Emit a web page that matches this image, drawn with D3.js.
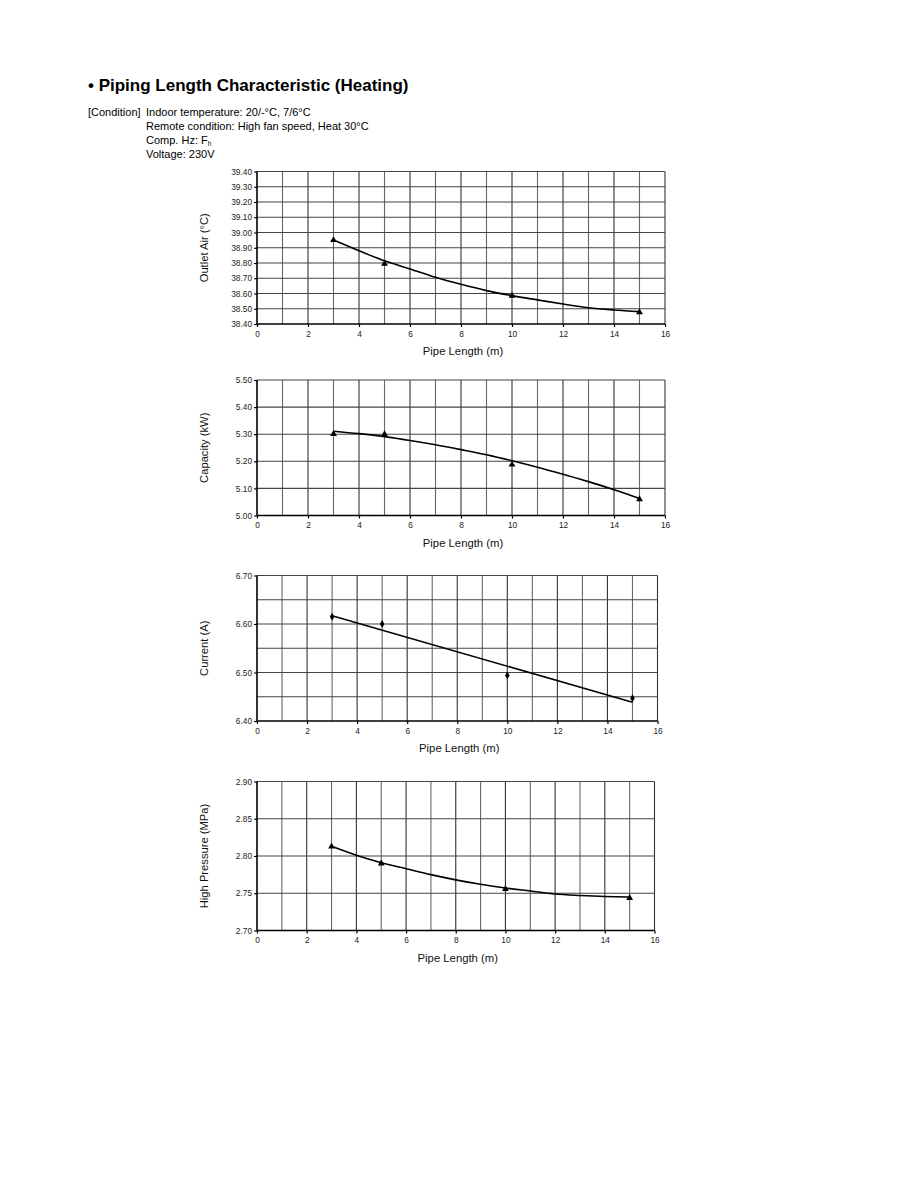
<!DOCTYPE html>
<html>
<head>
<meta charset="utf-8">
<script src="https://cdn.jsdelivr.net/npm/d3@7"></script>
<style>
  html, body { margin: 0; padding: 0; background: #fff; }
  svg { display: block; font-family: "Liberation Sans", Arial, sans-serif; }
</style>
</head>
<body>
<svg id="chart" width="918" height="1188"></svg>
<script>
// ---------- data ----------
const pipeLengths = [3, 5, 10, 15];
const xTicks = [0, 2, 4, 6, 8, 10, 12, 14, 16];

const outletAir = [38.95, 38.795, 38.585, 38.477];
const outletTrendX = [3, 4, 5, 6, 7, 8, 9, 10, 11, 12, 13, 14, 15];
const outletTrendY = [38.951, 38.881, 38.814, 38.761, 38.706, 38.66, 38.619, 38.586, 38.558, 38.531, 38.507, 38.492, 38.481];
const outletTicks = [38.40, 38.50, 38.60, 38.70, 38.80, 38.90, 39.00, 39.10, 39.20, 39.30, 39.40];

const capacity = [5.301, 5.300, 5.188, 5.060];
const capacityTrendX = [3, 4, 5, 6, 7, 8, 9, 10, 11, 12, 13, 14, 15];
const capacityTrendY = [5.311, 5.302, 5.291, 5.277, 5.261, 5.243, 5.224, 5.202, 5.178, 5.152, 5.125, 5.095, 5.063];
const capacityTicks = [5.00, 5.10, 5.20, 5.30, 5.40, 5.50];

const current = [6.615, 6.600, 6.494, 6.447];
const currentTrendX = [3, 15];
const currentTrendY = [6.617, 6.4385];
const currentTicks = [6.40, 6.50, 6.60, 6.70];
const currentGrid = [6.40, 6.45, 6.50, 6.55, 6.60, 6.65, 6.70];

const highPressure = [2.8128, 2.790, 2.7555, 2.7436];
const pressureTrendX = [3, 4, 5, 6, 7, 8, 9, 10, 11, 12, 13, 14, 15];
const pressureTrendY = [2.813, 2.801, 2.791, 2.783, 2.775, 2.768, 2.762, 2.757, 2.753, 2.749, 2.747, 2.7456, 2.745];
const pressureTicks = [2.70, 2.75, 2.80, 2.85, 2.90];

const titleText = "\u2022 Piping Length Characteristic (Heating)";
const conditionLabel = "[Condition]";
const conditionLines = ["Indoor temperature: 20/-\u00B0C, 7/6\u00B0C", "Remote condition: High fan speed, Heat 30\u00B0C", "Comp. Hz: F", "Voltage: 230V"];
const xAxisTitle = "Pipe Length (m)";

// ---------- layout ----------
const svg = d3.select("#chart");

svg.append("text").attr("x", 88).attr("y", 91)
  .attr("font-size", 17).attr("font-weight", "bold").attr("fill", "#000")
  .text(titleText);

svg.append("text").attr("x", 88).attr("y", 116).attr("font-size", 11).text(conditionLabel);
const lineYs = [116, 130, 144, 157.5];
conditionLines.forEach((t, i) => {
  const tx = svg.append("text").attr("x", 146).attr("y", lineYs[i]).attr("font-size", 11).text(t);
  if (i === 2) {
    tx.append("tspan").attr("font-size", 6.5).attr("dy", 2).text("h");
  }
});

const charts = [
  { yLabel: "Outlet Air (\u00B0C)", pts: outletAir, tx: outletTrendX, ty: outletTrendY, ticks: outletTicks, grid: outletTicks,
    dom: [38.4, 39.4], x0: 257, x1: 665, y0: 171.5, y1: 324, marker: "tri", curve: true, fmt: ".2f" },
  { yLabel: "Capacity (kW)", pts: capacity, tx: capacityTrendX, ty: capacityTrendY, ticks: capacityTicks, grid: capacityTicks,
    dom: [5.0, 5.5], x0: 257, x1: 665, y0: 380, y1: 515.5, marker: "tri", curve: true, fmt: ".2f" },
  { yLabel: "Current (A)", pts: current, tx: currentTrendX, ty: currentTrendY, ticks: currentTicks, grid: currentGrid,
    dom: [6.4, 6.7], x0: 257, x1: 657.5, y0: 575.5, y1: 721, marker: "dia", curve: false, fmt: ".2f" },
  { yLabel: "High Pressure (MPa)", pts: highPressure, tx: pressureTrendX, ty: pressureTrendY, ticks: pressureTicks, grid: pressureTicks,
    dom: [2.7, 2.9], x0: 257, x1: 654.5, y0: 781.5, y1: 930.5, marker: "tri", curve: true, fmt: ".2f" }
];

charts.forEach(c => {
  const x = d3.scaleLinear().domain([0, 16]).range([c.x0, c.x1]);
  const y = d3.scaleLinear().domain(c.dom).range([c.y1, c.y0]);
  const g = svg.append("g");

  // vertical grid every 1 m
  g.selectAll(".vg").data(d3.range(1, 17)).enter().append("line")
    .attr("x1", d => x(d)).attr("x2", d => x(d))
    .attr("y1", c.y0).attr("y2", c.y1)
    .attr("stroke", d => d % 2 === 0 ? "#333" : "#666").attr("stroke-width", 1.1);
  // horizontal grid
  g.selectAll(".hg").data(c.grid.filter(v => v > c.dom[0] + 1e-9)).enter().append("line")
    .attr("x1", c.x0).attr("x2", c.x1)
    .attr("y1", d => y(d)).attr("y2", d => y(d))
    .attr("stroke", "#444").attr("stroke-width", 1.1);

  // axes
  const yAxis = d3.axisLeft(y).tickValues(c.ticks).tickFormat(d3.format(c.fmt)).tickSize(3).tickPadding(2);
  const ya = g.append("g").attr("transform", `translate(${c.x0},0)`).call(yAxis);
  const xAxis = d3.axisBottom(x).tickValues(xTicks).tickFormat(d3.format("d")).tickSize(3).tickPadding(4);
  const xa = g.append("g").attr("transform", `translate(0,${c.y1})`).call(xAxis);
  [ya, xa].forEach(a => {
    a.select(".domain").attr("stroke", "#000").attr("stroke-width", 1.6);
    a.selectAll(".tick line").attr("stroke", "#000").attr("stroke-width", 1.2);
    a.selectAll(".tick text").attr("font-size", 8.3).attr("fill", "#222")
      .attr("font-family", "'Liberation Sans', Arial, sans-serif");
  });
  ya.select(".domain").attr("d", `M0,${c.y0}V${c.y1}`);
  xa.select(".domain").attr("d", `M${c.x0},0H${c.x1}`);

  // trend line
  const trend = c.tx.map((v, i) => [v, c.ty[i]]);
  const line = d3.line().x(d => x(d[0])).y(d => y(d[1]))
    .curve(c.curve ? d3.curveMonotoneX : d3.curveLinear);
  g.append("path").datum(trend).attr("d", line)
    .attr("fill", "none").attr("stroke", "#000").attr("stroke-width", 1.6);

  // markers
  const sym = c.marker === "tri" ? d3.symbolTriangle : d3.symbolDiamond;
  g.selectAll(".pt").data(pipeLengths.map((v, i) => [v, c.pts[i]])).enter().append("path")
    .attr("transform", d => `translate(${x(d[0])},${y(d[1])})`)
    .attr("d", d3.symbol().type(sym).size(c.marker === "tri" ? 20 : 18))
    .attr("fill", "#000");

  // titles
  g.append("text").attr("x", (c.x0 + c.x1) / 2 + 2).attr("y", c.y1 + 31)
    .attr("text-anchor", "middle").attr("font-size", 11.3).attr("fill", "#111").text(xAxisTitle);
  const cy = (c.y0 + c.y1) / 2;
  g.append("text").attr("transform", `translate(208,${cy}) rotate(-90)`)
    .attr("text-anchor", "middle").attr("font-size", 11.2).attr("fill", "#111").text(c.yLabel);
});
</script>
</body>
</html>
